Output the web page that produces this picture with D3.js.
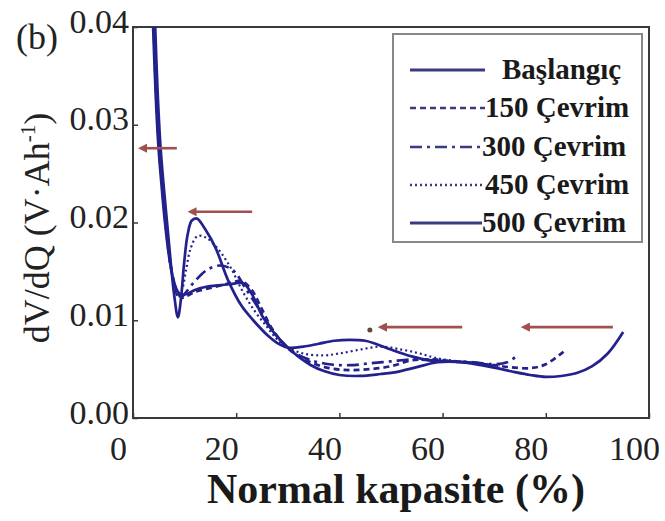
<!DOCTYPE html>
<html><head><meta charset="utf-8">
<script src="https://cdn.jsdelivr.net/npm/d3@7"></script>
<style>body{margin:0;background:#fff}svg{display:block}</style>
</head><body><svg id="c" width="665" height="521"></svg>
<script>
// ---- data (x: normal kapasite %, y: dV/dQ V·Ah^-1) ----
const seriesNames = ["Başlangıç", "150 Çevrim", "300 Çevrim", "450 Çevrim", "500 Çevrim"];
const baslangic = [[3.9,0.040],[4.4,0.033],[4.9,0.028],[5.5,0.024],[6.2,0.020],[7.0,0.0165],[7.8,0.0142],[8.6,0.0130],[9.4,0.0126],[10.5,0.0127],[12,0.0131],[14,0.0134],[17,0.0136],[19,0.0137],[21.3,0.0138],[23,0.0127],[25.2,0.0103],[27.5,0.0086],[29.8,0.0073],[32,0.0063],[34.5,0.0054],[37,0.0048],[40,0.0044],[44,0.0043],[48,0.0045],[51,0.0047],[55,0.0052],[59,0.0057],[64,0.0057],[67.5,0.0054],[70.5,0.0051],[74,0.0047],[77,0.0044],[80,0.0042],[83,0.0043],[86,0.0046],[89,0.0053],[92,0.0066],[95,0.0088]];
const cycle150 = [[4.0,0.040],[4.5,0.033],[5.0,0.028],[5.6,0.024],[6.3,0.020],[7.1,0.0162],[7.9,0.0140],[8.7,0.0127],[9.5,0.0123],[10.5,0.0125],[12,0.0129],[15,0.0133],[18,0.0137],[21,0.0140],[23,0.0131],[25,0.0111],[27,0.0091],[29,0.0077],[31,0.0067],[34,0.0058],[38,0.0051],[42,0.0049],[46,0.0050],[50,0.0053],[54,0.0059],[58,0.0060],[62,0.0058],[66,0.0056],[70,0.0054],[73,0.0052],[77,0.0051],[80,0.0055],[83.7,0.0069]];
const cycle300 = [[4.1,0.040],[4.6,0.033],[5.1,0.028],[5.7,0.024],[6.4,0.020],[7.2,0.016],[8.0,0.0136],[9.0,0.0122],[10,0.0127],[12,0.0140],[14.5,0.0152],[17,0.0156],[19.4,0.0151],[22,0.0131],[24.6,0.0110],[27,0.0090],[29,0.0077],[31,0.0068],[34,0.0060],[38,0.0055],[42,0.0054],[46,0.0056],[50,0.0058],[54,0.0060],[58,0.0059],[62,0.0058],[66,0.0057],[70,0.0055],[72.5,0.0057],[74.5,0.0064]];
const cycle450 = [[4.2,0.040],[4.7,0.033],[5.2,0.028],[5.8,0.024],[6.5,0.020],[7.2,0.0162],[7.9,0.0140],[8.6,0.0126],[9.4,0.0130],[10.3,0.0152],[11.2,0.0174],[12.5,0.0186],[14,0.0185],[16,0.0176],[18.8,0.0155],[21,0.0132],[23.5,0.0110],[26,0.0093],[28,0.0080],[30,0.0072],[33,0.0066],[36.8,0.0064],[40,0.0066],[44,0.0070],[48,0.0073],[52,0.0070],[55.6,0.0066],[59,0.0061],[63,0.0058],[67,0.0056],[71,0.0053]];
const cycle500 = [[4.3,0.040],[4.8,0.033],[5.3,0.028],[5.9,0.024],[6.6,0.020],[7.3,0.016],[8.0,0.0125],[8.7,0.0103],[9.3,0.0122],[9.9,0.0158],[10.6,0.0188],[11.4,0.0202],[12.4,0.0204],[14,0.0193],[16,0.0174],[18.5,0.0140],[21,0.0115],[23.3,0.0100],[26,0.0085],[28.5,0.0075],[30,0.0072],[33,0.0073],[36,0.0076],[39,0.0079],[42,0.0080],[45,0.0079],[47,0.0076],[50,0.0070],[54,0.0063],[57.5,0.0059],[61,0.0058],[65,0.0057],[68,0.0055],[70,0.0053]];
const seriesData = [baslangic, cycle150, cycle300, cycle450, cycle500];
const seriesDash = [null, "6,4", "12,5,3,5", "2,3", null];

const xTicks = [0, 20, 40, 60, 80, 100];
const yTicks = [0, 0.01, 0.02, 0.03, 0.04];
const yTickLabels = ["0.00", "0.01", "0.02", "0.03", "0.04"];

// annotation arrows: tail x -> head x at level y
const arrowTail = [8.5, 23.1, 63.8, 93.0];
const arrowHead = [1.4, 11.0, 47.9, 75.6];
const arrowY = [0.0276, 0.0211, 0.0093, 0.0093];
const markDot = [[45.9, 0.0090]];

// ---- layout ----
const W = 665, H = 521;
const m = {left: 133, right: 16, top: 27, bottom: 103};
const svg = d3.select("#c");
const x = d3.scaleLinear().domain([0, 100]).range([m.left, W - m.right]);
const y = d3.scaleLinear().domain([0, 0.04]).range([H - m.bottom, m.top]);
const serif = "'Liberation Serif','Times New Roman',serif";
const curveColor = "#23228d";

svg.append("defs").append("clipPath").attr("id", "clip")
  .append("rect").attr("x", m.left).attr("y", m.top)
  .attr("width", x(100) - m.left).attr("height", y(0) - m.top);

// frame
svg.append("rect").attr("x", m.left).attr("y", m.top)
  .attr("width", x(100) - m.left).attr("height", y(0) - m.top)
  .attr("fill", "none").attr("stroke", "#3a3a3a").attr("stroke-width", 2);

// x axis
const xAxis = d3.axisBottom(x).tickValues(xTicks).tickSize(-5).tickFormat(d3.format("d"));
const gx = svg.append("g").attr("transform", `translate(0,${y(0)})`).call(xAxis);
gx.select(".domain").remove();
gx.selectAll(".tick line").attr("stroke", "#3a3a3a").attr("stroke-width", 1.5);
gx.selectAll(".tick text").attr("font-family", serif).attr("font-size", 34)
  .attr("fill", "#222").attr("dy", 0).attr("y", 42).attr("x", -15);

// y axis
const yAxis = d3.axisLeft(y).tickValues(yTicks).tickSize(-5).tickFormat((d, i) => yTickLabels[i]);
const gy = svg.append("g").attr("transform", `translate(${m.left},0)`).call(yAxis);
gy.select(".domain").remove();
gy.selectAll(".tick line").attr("stroke", "#3a3a3a").attr("stroke-width", 1.5);
gy.selectAll(".tick text").attr("font-family", serif).attr("font-size", 34)
  .attr("fill", "#222").attr("dy", 0).attr("y", 5).attr("x", -4);

// curves
const line = d3.line().x(d => x(d[0])).y(d => y(d[1])).curve(d3.curveCatmullRom.alpha(0.5));
const gc = svg.append("g").attr("clip-path", "url(#clip)");
seriesData.forEach((s, i) => {
  gc.append("path").attr("d", line(s)).attr("fill", "none")
    .attr("stroke", curveColor)
    .attr("stroke-width", seriesDash[i] === "2,3" ? 2.2 : 2.7)
    .attr("stroke-dasharray", seriesDash[i]);
});

// arrows
const arrowColor = "#a0504e";
svg.append("defs").append("marker").attr("id", "ah")
  .attr("viewBox", "0 0 10 10").attr("refX", 2).attr("refY", 5)
  .attr("markerWidth", 3.5).attr("markerHeight", 3.5).attr("orient", "auto")
  .append("path").attr("d", "M0,0 L10,5 L0,10 z").attr("fill", arrowColor);
arrowY.forEach((yy, i) => {
  svg.append("line").attr("x1", x(arrowTail[i])).attr("x2", x(arrowHead[i]) + 5)
    .attr("y1", y(yy)).attr("y2", y(yy))
    .attr("stroke", arrowColor).attr("stroke-width", 2.6)
    .attr("marker-end", "url(#ah)");
});
markDot.forEach(d => {
  svg.append("circle").attr("cx", x(d[0])).attr("cy", y(d[1])).attr("r", 2.5)
    .attr("fill", "#5a4a3a");
});

// legend
const lg = svg.append("g");
lg.append("rect").attr("x", 393).attr("y", 34).attr("width", 249).attr("height", 208)
  .attr("fill", "#fff").attr("stroke", "#888").attr("stroke-width", 2);
const rowY = [70, 108, 147, 185, 223];
const textX = [502, 485, 482, 485, 482];
seriesNames.forEach((n, i) => {
  lg.append("line").attr("x1", 410).attr("x2", i === 0 ? 485 : textX[i])
    .attr("y1", rowY[i]).attr("y2", rowY[i])
    .attr("stroke", "#3b3b80").attr("stroke-width", i === 0 || i === 4 ? 3 : 2.6)
    .attr("stroke-dasharray", seriesDash[i]);
  lg.append("text").attr("x", textX[i]).attr("y", rowY[i] + 9)
    .attr("font-family", serif).attr("font-weight", "bold").attr("font-size", 29)
    .attr("fill", "#1a1a1a").text(n);
});

// axis titles
svg.append("text").attr("x", 396).attr("y", 503).attr("text-anchor", "middle")
  .attr("font-family", serif).attr("font-weight", "bold").attr("font-size", 42)
  .attr("fill", "#1a1a1a").text("Normal kapasite (%)");

const yl = svg.append("text").attr("transform", "translate(49,228) rotate(-90)")
  .attr("text-anchor", "middle").attr("font-family", serif).attr("font-size", 36)
  .attr("fill", "#222");
yl.append("tspan").text("dV/dQ (V·Ah");
yl.append("tspan").attr("font-size", 21).attr("dy", -14).text("-1");
yl.append("tspan").attr("dy", 14).text(")");

svg.append("text").attr("x", 16).attr("y", 49).attr("font-family", serif)
  .attr("font-size", 36).attr("fill", "#222").text("(b)");
</script></body></html>
